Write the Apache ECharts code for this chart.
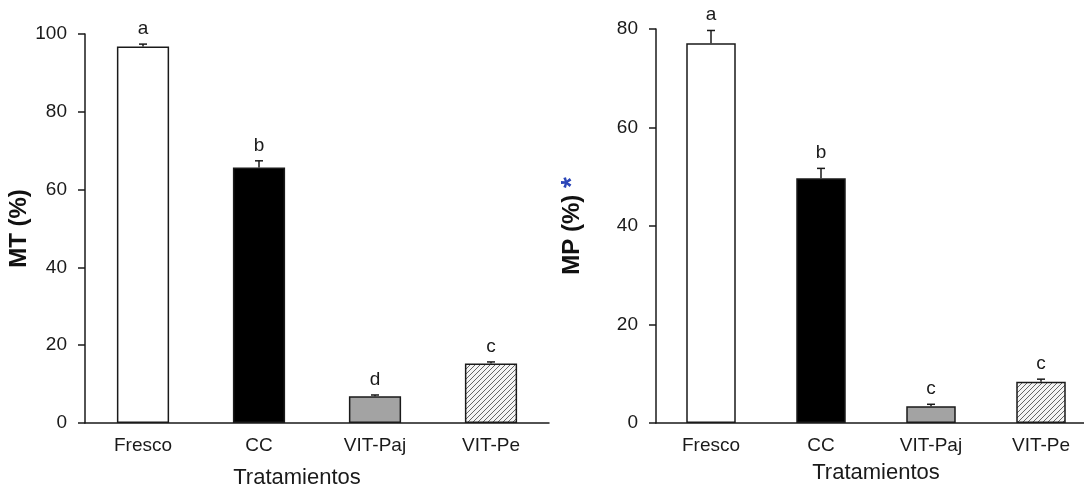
<!DOCTYPE html>
<html>
<head>
<meta charset="utf-8">
<script src="https://cdn.jsdelivr.net/npm/echarts@6/dist/echarts.min.js"></script>
<style>
  html, body { margin: 0; padding: 0; background: #fff; }
  #main { width: 1084px; height: 489px; }
</style>
</head>
<body>
<div id="main"></div>
<script>
var myChart = echarts.init(document.getElementById('main'));

var categories = ['Fresco', 'CC', 'VIT-Paj', 'VIT-Pe'];

// left panel: MT (%)
var valuesMT = [96.8, 65.7, 6.9, 15.3];
var errorsMT = [0.6, 1.7, 0.3, 0.4];
var lettersMT = ['a', 'b', 'd', 'c'];
var ticksMT = { min: 0, max: 100, interval: 20 };

// right panel: MP (%)
var valuesMP = [77.1, 49.7, 3.4, 8.4];
var errorsMP = [2.6, 2.0, 0.4, 0.5];
var lettersMP = ['a', 'b', 'c', 'c'];
var ticksMP = { min: 0, max: 80, interval: 20 };

var font = 'Liberation Sans, Arial, sans-serif';
var ink = '#1a1a1a';

// diagonal hatch for VIT-Pe
function hatch() {
    var c = document.createElement('canvas');
    c.width = 5; c.height = 5;
    var ctx = c.getContext('2d');
    ctx.fillStyle = '#f4f4f4';
    ctx.fillRect(0, 0, 5, 5);
    ctx.strokeStyle = '#555';
    ctx.lineWidth = 0.9;
    ctx.beginPath();
    ctx.moveTo(0, 5); ctx.lineTo(5, 0);
    ctx.moveTo(-1, 1); ctx.lineTo(1, -1);
    ctx.moveTo(4, 6); ctx.lineTo(6, 4);
    ctx.stroke();
    return c;
}
var fills = ['#ffffff', '#000000', '#a3a3a3', { image: hatch(), repeat: 'repeat' }];

function barData(vals) {
    return vals.map(function (v, i) {
        return { value: v, itemStyle: { color: fills[i] } };
    });
}

function errData(vals, errs) {
    return vals.map(function (v, i) { return [i, v, errs[i]]; });
}

function errRenderer(letters) {
    return function (params, api) {
        var idx = api.value(0);
        var top = api.coord([idx, api.value(1)]);
        var up = api.coord([idx, api.value(1) + api.value(2)]);
        return {
            type: 'group',
            children: [
                { type: 'line', shape: { x1: top[0], y1: top[1], x2: up[0], y2: up[1] },
                  style: { stroke: ink, lineWidth: 1.5 } },
                { type: 'line', shape: { x1: up[0] - 4, y1: up[1], x2: up[0] + 4, y2: up[1] },
                  style: { stroke: ink, lineWidth: 1.5 } },
                { type: 'text', style: { text: letters[params.dataIndex], x: up[0], y: up[1] - 6,
                  align: 'center', verticalAlign: 'bottom', fontSize: 19,
                  fontFamily: font, fill: ink } }
            ]
        };
    };
}

function xAxisOf(gi, gap, pad) {
    return {
        type: 'category', gridIndex: gi, data: categories,
        name: 'Tratamientos', nameLocation: 'middle', nameGap: gap,
        nameTextStyle: { fontSize: 22, color: ink, fontFamily: font, padding: pad },
        axisLine: { lineStyle: { color: ink, width: 1.5 } },
        axisTick: { length: 6, lineStyle: { color: ink, width: 1.5 } },
        axisLabel: { fontSize: 19, color: ink, fontFamily: font, margin: 13 }
    };
}

function yAxisOf(gi, t, name, gap) {
    return {
        type: 'value', gridIndex: gi, min: t.min, max: t.max, interval: t.interval,
        name: name, nameLocation: 'middle', nameGap: gap, nameRotate: 90,
        nameTextStyle: { fontSize: 24, fontWeight: 'bold', color: '#111', fontFamily: font,
            rich: { s: { fontSize: 28, fontWeight: 'bold', color: '#2b46b8', fontFamily: font } } },
        axisLine: { show: true, lineStyle: { color: ink, width: 1.5 } },
        axisTick: { show: true, length: 7, lineStyle: { color: ink, width: 1.5 } },
        axisLabel: { fontSize: 19, color: ink, fontFamily: font, margin: 18 },
        splitLine: { show: false }
    };
}

var option = {
    backgroundColor: '#fff',
    animation: false,
    grid: [
        { left: 85, top: 34, width: 464, height: 389, outerBoundsMode: 'none' },
        { left: 656, top: 29, width: 440, height: 394, outerBoundsMode: 'none' }
    ],
    xAxis: [xAxisOf(0, 44, [0, 40, 0, 0]), xAxisOf(1, 39, 0)],
    yAxis: [yAxisOf(0, ticksMT, 'MT (%)', 50), yAxisOf(1, ticksMP, 'MP (%) {s|*}', 70)],
    series: [
        { type: 'bar', xAxisIndex: 0, yAxisIndex: 0, barWidth: '45%', data: barData(valuesMT),
          itemStyle: { borderColor: ink, borderWidth: 1.5 } },
        { type: 'custom', xAxisIndex: 0, yAxisIndex: 0, renderItem: errRenderer(lettersMT),
          data: errData(valuesMT, errorsMT), z: 5 },
        { type: 'bar', xAxisIndex: 1, yAxisIndex: 1, barWidth: '45%', data: barData(valuesMP),
          itemStyle: { borderColor: ink, borderWidth: 1.5 } },
        { type: 'custom', xAxisIndex: 1, yAxisIndex: 1, renderItem: errRenderer(lettersMP),
          data: errData(valuesMP, errorsMP), z: 5 }
    ]
};
myChart.setOption(option);
</script>
</body>
</html>
